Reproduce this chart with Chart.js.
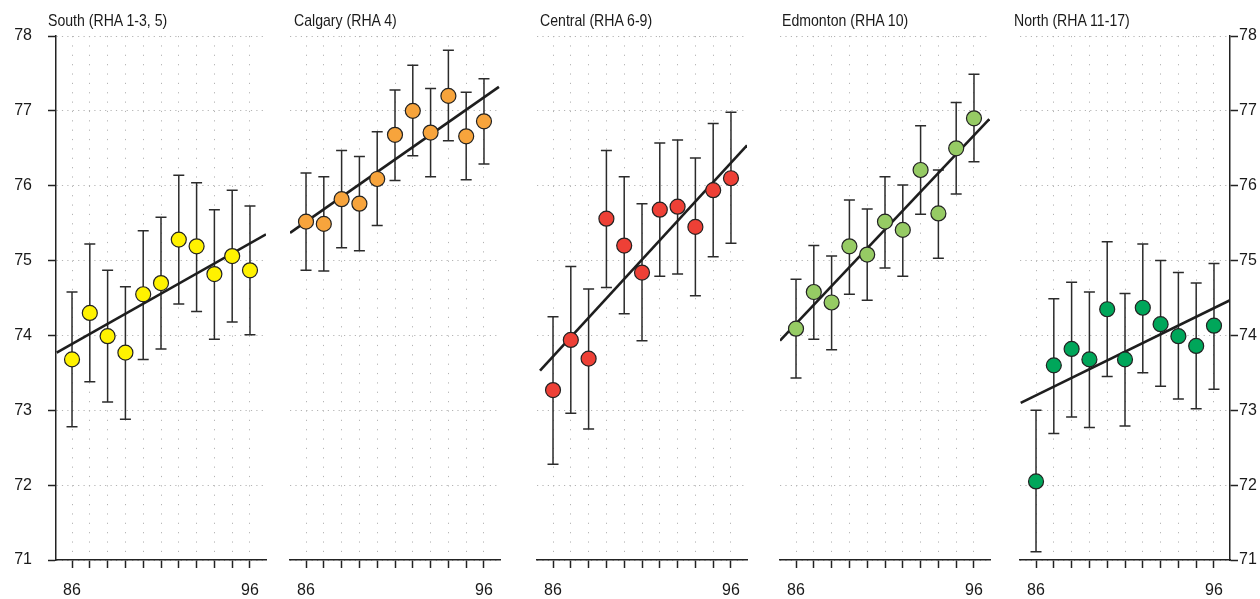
<!DOCTYPE html>
<html>
<head>
<meta charset="utf-8">
<script src="https://cdn.jsdelivr.net/npm/chart.js@4.4.1/dist/chart.umd.min.js"></script>
<style>
  html, body { margin: 0; padding: 0; background: #fff; }
  #wrap { position: relative; width: 1260px; height: 599px; overflow: hidden; }
  #wrap canvas { position: absolute; left: 0; top: 0; }
  .title { position: absolute; top: 13px; line-height: 16px; font-size: 17px; color: #1a1a1a; white-space: nowrap;
    font-family: "Liberation Sans", Arial, sans-serif; transform: scaleX(0.83); transform-origin: 0 0; }
</style>
</head>
<body>
<div id="wrap"></div>
<script>
// life expectancy by region, 1986-1996, with 95% ranges and fitted trend
const years = [86, 87, 88, 89, 90, 91, 92, 93, 94, 95, 96]
const regions = ["South (RHA 1-3, 5)", "Calgary (RHA 4)", "Central (RHA 6-9)", "Edmonton (RHA 10)", "North (RHA 11-17)"]

const southMean = [73.68, 74.30, 73.99, 73.77, 74.55, 74.70, 75.28, 75.19, 74.82, 75.06, 74.87]
const southLow  = [72.78, 73.38, 73.11, 72.88, 73.68, 73.82, 74.42, 74.32, 73.95, 74.18, 74.01]
const southHigh = [74.58, 75.22, 74.87, 74.65, 75.40, 75.58, 76.14, 76.04, 75.68, 75.94, 75.73]

const calgaryMean = [75.52, 75.49, 75.82, 75.76, 76.09, 76.68, 77.00, 76.71, 77.20, 76.66, 76.86]
const calgaryLow  = [74.87, 74.86, 75.17, 75.13, 75.47, 76.07, 76.40, 76.12, 76.60, 76.08, 76.29]
const calgaryHigh = [76.17, 76.12, 76.47, 76.39, 76.72, 77.28, 77.61, 77.30, 77.81, 77.25, 77.43]

const centralMean = [73.27, 73.94, 73.69, 75.56, 75.20, 74.84, 75.68, 75.72, 75.45, 75.94, 76.10]
const centralLow  = [72.28, 72.96, 72.75, 74.64, 74.29, 73.93, 74.79, 74.82, 74.53, 75.05, 75.23]
const centralHigh = [74.25, 74.92, 74.62, 76.47, 76.12, 75.76, 76.57, 76.61, 76.37, 76.83, 76.98]

const edmontonMean = [74.09, 74.58, 74.44, 75.19, 75.08, 75.52, 75.41, 76.21, 75.63, 76.50, 76.90]
const edmontonLow  = [73.43, 73.95, 73.81, 74.55, 74.47, 74.90, 74.79, 75.62, 75.03, 75.89, 76.32]
const edmontonHigh = [74.75, 75.20, 75.06, 75.81, 75.69, 76.12, 76.01, 76.80, 76.21, 77.11, 77.49]

const northMean = [72.05, 73.60, 73.82, 73.68, 74.35, 73.68, 74.37, 74.15, 73.99, 73.86, 74.13]
const northLow  = [71.11, 72.69, 72.91, 72.77, 73.45, 72.79, 73.50, 73.32, 73.15, 73.02, 73.28]
const northHigh = [73.00, 74.49, 74.71, 74.58, 75.25, 74.56, 75.22, 75.00, 74.84, 74.70, 74.96]

// trend line end points
const trendX0 = [85.14, 85.10, 85.27, 85.10, 85.14]
const trendX1 = [96.90, 96.84, 96.90, 96.86, 96.90]
const trendY0 = [73.77, 75.37, 73.53, 73.93, 73.10]
const trendY1 = [75.35, 77.32, 76.54, 76.89, 74.47]

const yTicks = [71, 72, 73, 74, 75, 76, 77, 78]

const means = [southMean, calgaryMean, centralMean, edmontonMean, northMean]
const lows = [southLow, calgaryLow, centralLow, edmontonLow, northLow]
const highs = [southHigh, calgaryHigh, centralHigh, edmontonHigh, northHigh]
const colors = ["#fff200", "#f7a43c", "#ee4036", "#96cb64", "#00a65a"]

// layout
const panelLeft = [56, 290, 537, 780, 1020]
const panelWidth = 210
const titleLeft = [48, 294, 540, 782, 1014]

Chart.defaults.font.family = '"Liberation Sans", Arial, sans-serif'
Chart.defaults.color = "#1a1a1a"

const wrap = document.getElementById("wrap")

function errorBars(k) {
  return {
    id: "errorBars" + k,
    beforeDatasetsDraw(chart) {
      const { ctx, scales } = chart
      ctx.save()
      ctx.strokeStyle = "#2b2b2b"
      ctx.lineWidth = 1.5
      years.forEach((yr, i) => {
        const px = scales.x.getPixelForValue(yr)
        const top = scales.y.getPixelForValue(highs[k][i])
        const bot = scales.y.getPixelForValue(lows[k][i])
        ctx.beginPath()
        ctx.moveTo(px, top)
        ctx.lineTo(px, bot)
        ctx.moveTo(px - 5.5, top)
        ctx.lineTo(px + 5.5, top)
        ctx.moveTo(px - 5.5, bot)
        ctx.lineTo(px + 5.5, bot)
        ctx.stroke()
      })
      ctx.restore()
    },
  }
}

function makePanel(k) {
  const first = k === 0
  const last = k === regions.length - 1
  const canvas = document.createElement("canvas")
  canvas.width = 1260
  canvas.height = 599
  wrap.appendChild(canvas)

  const title = document.createElement("div")
  title.className = "title"
  title.style.left = titleLeft[k] + "px"
  title.textContent = regions[k]
  wrap.appendChild(title)

  new Chart(canvas, {
    type: "scatter",
    data: {
      datasets: [
        {
          data: years.map((yr, i) => ({ x: yr, y: means[k][i] })),
          backgroundColor: colors[k],
          borderColor: "#222",
          borderWidth: 1.2,
          pointRadius: 7.5,
          pointHoverRadius: 7.5,
        },
        {
          type: "line",
          data: [
            { x: trendX0[k], y: trendY0[k] },
            { x: trendX1[k], y: trendY1[k] },
          ],
          borderColor: "#1e1e1e",
          borderWidth: 2.6,
          pointRadius: 0,
          fill: false,
        },
      ],
    },
    options: {
      responsive: false,
      animation: false,
      events: [],
      layout: {
        padding: {
          left: first ? 0 : panelLeft[k],
          right: last ? 0 : 1260 - panelLeft[k] - panelWidth,
          top: 36,
          bottom: 0,
        },
      },
      plugins: { legend: { display: false }, tooltip: { enabled: false } },
      scales: {
        x: {
          type: "linear",
          min: 85.1,
          max: 96.9,
          afterBuildTicks: (s) => {
            s.ticks = years.map((v) => ({ value: v }))
          },
          afterFit: (s) => {
            s.height = 39
          },
          ticks: {
            autoSkip: false,
            maxRotation: 0,
            padding: 13,
            font: { size: 16 },
            callback: (v) => (v === years[0] || v === years[years.length - 1] ? String(v) : ""),
          },
          grid: {
            color: "#b4b4b4",
            lineWidth: 1,
            tickLength: 8,
            tickColor: "#222",
            tickWidth: 1.5,
          },
          border: { display: true, color: "#222", width: 1.5, dash: [1.2, 8.16] },
        },
        y: {
          min: yTicks[0],
          max: yTicks[yTicks.length - 1],
          position: last ? "right" : "left",
          afterBuildTicks: (s) => {
            s.ticks = yTicks.map((v) => ({ value: v }))
          },
          afterFit: (s) => {
            s.width = first ? panelLeft[0] : last ? 30 : 0
          },
          ticks: {
            display: first || last,
            padding: first ? 16 : 1,
            font: { size: 16 },
          },
          grid: {
            color: "#b4b4b4",
            lineWidth: 1,
            drawTicks: first || last,
            tickLength: 8,
            tickColor: "#222",
            tickWidth: 1.5,
          },
          border: { display: first || last, color: "#222", width: 1.5, dash: [1.2, 4.2] },
        },
      },
    },
    plugins: [errorBars(k)],
  })
}

regions.forEach((r, k) => makePanel(k))
</script>
</body>
</html>
